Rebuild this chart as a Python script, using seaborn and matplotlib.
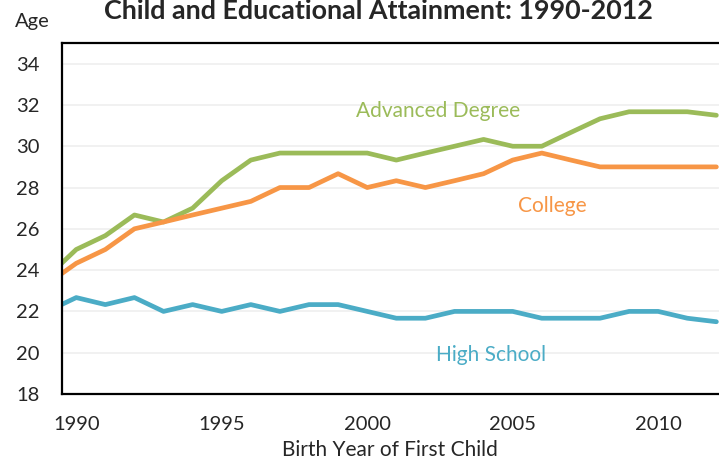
import pandas as pd
import matplotlib
matplotlib.use('Agg')
import matplotlib.pyplot as plt
import seaborn as sns

# Mean age at first child, by education (1989 is only half visible at the left edge)
years = list(range(1989, 2013))
advanced_degree = [23.67, 25.0, 25.67, 26.67, 26.33, 27.0, 28.33, 29.33, 29.67, 29.67,
                   29.67, 29.67, 29.33, 29.67, 30.0, 30.33, 30.0, 30.0, 30.67, 31.33,
                   31.67, 31.67, 31.67, 31.5]
college = [23.33, 24.33, 25.0, 26.0, 26.33, 26.67, 27.0, 27.33, 28.0, 28.0,
           28.67, 28.0, 28.33, 28.0, 28.33, 28.67, 29.33, 29.67, 29.33, 29.0,
           29.0, 29.0, 29.0, 29.0]
high_school = [22.0, 22.67, 22.33, 22.67, 22.0, 22.33, 22.0, 22.33, 22.0, 22.33,
               22.33, 22.0, 21.67, 21.67, 22.0, 22.0, 22.0, 21.67, 21.67, 21.67,
               22.0, 22.0, 21.67, 21.5]

series_names = ['Advanced Degree', 'College', 'High School']
colors = ['#9BBB59', '#F79646', '#4BACC6']
year_labels = [1990, 1995, 2000, 2005, 2010]
y_ticks = [18, 20, 22, 24, 26, 28, 30, 32, 34]

df = pd.DataFrame({'Year': years,
                   'Advanced Degree': advanced_degree,
                   'College': college,
                   'High School': high_school})
df_long = df.melt(id_vars='Year', var_name='Education', value_name='Age')

sns.set_style('white')
plt.rcParams['font.family'] = ['Lato', 'DejaVu Sans']
plt.rcParams['lines.solid_capstyle'] = 'round'
plt.rcParams['lines.solid_joinstyle'] = 'round'

fig = plt.figure(figsize=(7.19, 4.62), dpi=100)
ax = fig.add_axes([0.0858, 0.1472, 0.9142, 0.7597])

sns.lineplot(data=df_long, x='Year', y='Age', hue='Education',
             hue_order=series_names, palette=colors, linewidth=3.4,
             legend=False, ax=ax)

ax.set_xlim(1989.5, 2012.09)
ax.set_ylim(18, 35)

# category-style axis: tick marks between years, labels on the years
ax.set_xticks([y - 0.5 for y in year_labels])
ax.set_xticklabels([])
ax.set_xticks(year_labels, minor=True)
ax.set_xticklabels([str(y) for y in year_labels], minor=True)
ax.tick_params(axis='x', which='major', direction='in', length=5, width=1.3, color='black')
ax.tick_params(axis='x', which='minor', length=0, pad=16, labelsize=14.5)

ax.set_yticks(y_ticks)
ax.tick_params(axis='y', direction='in', length=5, width=1.3, color='black', pad=16,
               labelsize=14.5)

ax.yaxis.grid(True, color='#F0F0F0', linewidth=1.3)
ax.xaxis.grid(False)
ax.set_axisbelow(True)

for side in ['left', 'bottom', 'top']:
    ax.spines[side].set_visible(True)
    ax.spines[side].set_color('black')
    ax.spines[side].set_linewidth(1.6)
ax.spines['right'].set_visible(False)

ax.set_xlabel('Birth Year of First Child', fontsize=15, labelpad=5)
ax.set_ylabel('')

# series labels
ax.text(2002.45, 31.7, 'Advanced Degree', color=colors[0], fontsize=15, ha='center', va='center')
ax.text(2006.35, 27.1, 'College', color=colors[1], fontsize=15, ha='center', va='center')
ax.text(2004.25, 19.9, 'High School', color=colors[2], fontsize=15, ha='center', va='center')

fig.text(0.526, 1 - 19 / 462, 'Child and Educational Attainment: 1990-2012',
         fontsize=19.4, fontweight='bold', ha='center', va='baseline')
fig.text(15 / 719, 1 - 27 / 462, 'Age', fontsize=14.5, ha='left', va='baseline')

fig.savefig('out.png', dpi=100)
